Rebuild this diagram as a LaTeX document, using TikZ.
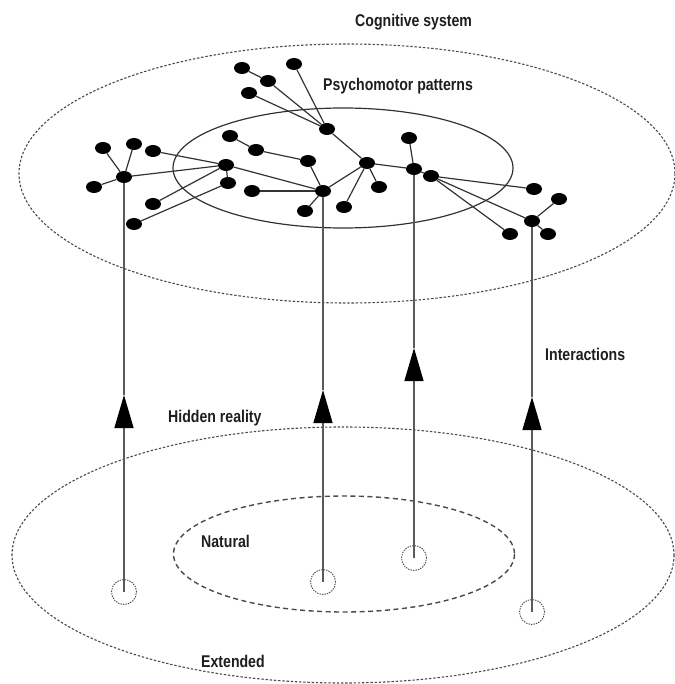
\documentclass[tikz,border=0pt]{standalone}
\usepackage{fontspec}
\setmainfont{Liberation Sans}[FakeStretch=0.83]
\usetikzlibrary{shapes.geometric,arrows.meta}
\definecolor{edgegray}{HTML}{333333}
\definecolor{linegray}{HTML}{5A5A5A}
\definecolor{dotgray}{HTML}{4A4A4A}
\definecolor{textgray}{HTML}{1E1E1E}
\tikzset{
  dotnode/.style={ellipse,fill=black,draw=none,minimum width=16pt,minimum height=12pt,inner sep=0pt},
  treeedge/.style={draw=edgegray,line width=1.2pt},
  vline/.style={draw=linegray,line width=1.3pt},
  uparrow/.style={vline,-{Triangle[length=33pt,width=19pt,color=black]}},
  topdotted/.style={draw=dotgray,line width=1.1pt,dash pattern=on 2.4pt off 1.8pt},
  natdashed/.style={draw=dotgray,line width=1.4pt,dash pattern=on 5pt off 3.5pt},
  smallcirc/.style={circle,draw=dotgray,line width=0.9pt,dash pattern=on 1.4pt off 1.1pt,minimum size=25pt,inner sep=0pt},
  lab/.style={anchor=base west,inner sep=0pt,text=textgray,font=\fontsize{17}{20}\selectfont\bfseries}
}
\begin{document}
\begin{tikzpicture}[x=1pt,y=-1pt]
\useasboundingbox (0,0) rectangle (674,684);
% regions
\draw[topdotted] (347,173.5) ellipse [x radius=328, y radius=129.5];
\draw[edgegray,line width=1.2pt] (343,168) ellipse [x radius=170, y radius=60];
\draw[topdotted] (343,555) ellipse [x radius=331, y radius=128];
\draw[natdashed] (344,554) ellipse [x radius=170.5, y radius=58];
% labels
\node[lab] (cog) at (355,27) {Cognitive system};
\node[lab] (psy) at (323,91) {Psychomotor patterns};
\node[lab] (hid) at (168,422) {Hidden reality};
\node[lab] (int) at (545,360) {Interactions};
\node[lab] (nat) at (201,547) {Natural};
\node[lab] (ext) at (201,667) {Extended};
% tree nodes
\node[dotnode] (A1) at (242,68) {};
\node[dotnode] (A2) at (294,64) {};
\node[dotnode] (A3) at (268,81) {};
\node[dotnode] (A4) at (249,93) {};
\node[dotnode] (H1) at (327,129) {};
\node[dotnode] (L1) at (230,136) {};
\node[dotnode] (L2) at (256,150) {};
\node[dotnode] (L3) at (308,161) {};
\node[dotnode] (B1) at (103,148) {};
\node[dotnode] (B2) at (134,144) {};
\node[dotnode] (B3) at (153,151) {};
\node[dotnode] (H2) at (124,177) {};
\node[dotnode] (B4) at (94,187) {};
\node[dotnode] (H3) at (226,165) {};
\node[dotnode] (C1) at (228,183) {};
\node[dotnode] (C2) at (153,204) {};
\node[dotnode] (C3) at (134,224) {};
\node[dotnode] (H4) at (323,191) {};
\node[dotnode] (D1) at (252,191) {};
\node[dotnode] (D2) at (305,211) {};
\node[dotnode] (H5) at (367,163) {};
\node[dotnode] (E1) at (379,187) {};
\node[dotnode] (E2) at (344,207) {};
\node[dotnode] (F1) at (409,138) {};
\node[dotnode] (H6) at (414,169) {};
\node[dotnode] (H7) at (431,176) {};
\node[dotnode] (G1) at (534,189) {};
\node[dotnode] (G2) at (510,234) {};
\node[dotnode] (H8) at (532,221) {};
\node[dotnode] (G3) at (559,199) {};
\node[dotnode] (G4) at (548,234) {};
% tree edges
\foreach \a/\b in {A1/A3,A3/H1,A4/H1,A2/H1,H1/H5,H5/H6,H5/H4,H5/E1,H5/E2,H6/F1,H6/H7,H7/G1,H7/G2,H7/H8,H8/G3,H8/G4,L1/L2,L2/L3,L3/H4,H4/D1,H4/D2,H3/H4,H3/B3,H3/H2,H3/C1,H3/C2,C1/C3,H2/B1,H2/B2,H2/B4}
  \draw[treeedge] (\a) -- (\b);
% bottom circles
\node[smallcirc] (c1) at (124,592) {};
\node[smallcirc] (c2) at (323,582) {};
\node[smallcirc] (c3) at (414,558) {};
\node[smallcirc] (c4) at (532,612) {};
% arrow tips
\coordinate (t1) at (124,395);
\coordinate (t2) at (323,390);
\coordinate (t3) at (414,348);
\coordinate (t4) at (532,397);
% interactions
\draw[uparrow] (c1.center) -- (t1);
\draw[vline] (t1) -- (H2);
\draw[uparrow] (c2.center) -- (t2);
\draw[vline] (t2) -- (H4);
\draw[uparrow] (c3.center) -- (t3);
\draw[vline] (t3) -- (H6);
\draw[uparrow] (c4.center) -- (t4);
\draw[vline] (t4) -- (H8);
\end{tikzpicture}
\end{document}
